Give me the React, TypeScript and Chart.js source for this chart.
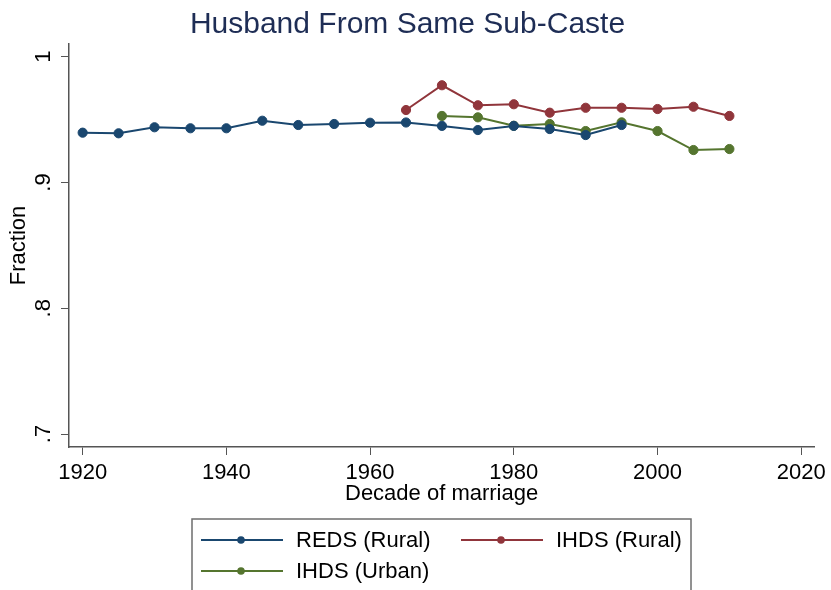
import React, { useEffect, useRef } from "react";
import { Chart, registerables } from "chart.js";

Chart.register(...registerables);

const titleText = "Husband From Same Sub-Caste";
const xAxisTitle = "Decade of marriage";
const yAxisTitle = "Fraction";

const xTickValues = [1920, 1940, 1960, 1980, 2000, 2020];
const yTickValues = [0.7, 0.8, 0.9, 1.0];
const yTickLabels = [".7", ".8", ".9", "1"];

const redsYears = [1920, 1925, 1930, 1935, 1940, 1945, 1950, 1955, 1960, 1965, 1970, 1975, 1980, 1985, 1990, 1995];
const redsRural = [0.9396, 0.9391, 0.9439, 0.9431, 0.9431, 0.9491, 0.9457, 0.9465, 0.9475, 0.9477, 0.945, 0.9417, 0.945, 0.9425, 0.9377, 0.9457];

const ihdsRuralYears = [1965, 1970, 1975, 1980, 1985, 1990, 1995, 2000, 2005, 2010];
const ihdsRural = [0.9576, 0.9773, 0.9614, 0.9622, 0.9555, 0.9594, 0.9594, 0.9584, 0.9602, 0.9529];

const ihdsUrbanYears = [1970, 1975, 1980, 1985, 1990, 1995, 2000, 2005, 2010];
const ihdsUrban = [0.9529, 0.9518, 0.9451, 0.9465, 0.9409, 0.9478, 0.9409, 0.9258, 0.9266];

const seriesLabels = ["REDS (Rural)", "IHDS (Rural)", "IHDS (Urban)"];
const seriesColors = ["#1a476f", "#90353b", "#55752f"];

const FONT = "'Liberation Sans', Arial, Helvetica, sans-serif";

const toPoints = (xs: number[], ys: number[]) => xs.map((x, i) => ({ x, y: ys[i] }));

const legendPlugin = {
  id: "stataLegend",
  afterDraw(chart: any) {
    const ctx = chart.ctx;
    const ds = chart.data.datasets;
    const boxL = 192, boxT = 519, boxR = 691, boxB = 600;
    ctx.save();
    ctx.strokeStyle = "#6e6e6e";
    ctx.lineWidth = 1.5;
    ctx.strokeRect(boxL, boxT, boxR - boxL, boxB - boxT);
    const slots = [
      { lx: 201, ty: 540 },
      { lx: 461, ty: 540 },
      { lx: 201, ty: 571 },
    ];
    ds.forEach((d: any, i: number) => {
      const s = slots[i];
      ctx.strokeStyle = d.borderColor;
      ctx.lineWidth = 2;
      ctx.beginPath();
      ctx.moveTo(s.lx, s.ty);
      ctx.lineTo(s.lx + 82, s.ty);
      ctx.stroke();
      ctx.fillStyle = d.borderColor;
      ctx.beginPath();
      ctx.arc(s.lx + 40, s.ty, 3.8, 0, Math.PI * 2);
      ctx.fill();
      ctx.fillStyle = "#000";
      ctx.font = `22px ${FONT}`;
      ctx.textBaseline = "middle";
      ctx.textAlign = "left";
      ctx.fillText(d.label, s.lx + 95, s.ty + 1);
    });
    ctx.restore();
  },
};

export default function App() {
  const ref = useRef<HTMLCanvasElement | null>(null);

  useEffect(() => {
    document.body.style.margin = "0";
    const canvas = ref.current;
    if (!canvas) return;
    const datasets = [
      toPoints(redsYears, redsRural),
      toPoints(ihdsRuralYears, ihdsRural),
      toPoints(ihdsUrbanYears, ihdsUrban),
    ].map((data, i) => ({
      label: seriesLabels[i],
      data,
      borderColor: seriesColors[i],
      backgroundColor: seriesColors[i],
      pointBackgroundColor: seriesColors[i],
      pointBorderColor: seriesColors[i],
      pointRadius: 4.6,
      pointBorderWidth: 1,
      borderWidth: 2,
      tension: 0,
      fill: false,
    }));

    const chart = new Chart(canvas, {
      type: "line",
      data: { datasets },
      plugins: [legendPlugin],
      options: {
        responsive: false,
        animation: false,
        devicePixelRatio: 1,
        layout: { padding: { top: 0, right: 16, bottom: 83, left: 0 } },
        plugins: {
          legend: { display: false },
          tooltip: { enabled: false },
          title: {
            display: true,
            text: titleText,
            color: "#1e2d55",
            font: { family: FONT, size: 30, weight: "normal" },
            padding: { top: 7, bottom: 1 },
          },
        },
        scales: {
          x: {
            type: "linear",
            min: 1918.1,
            max: 2021.8,
            afterBuildTicks: (s: any) => {
              s.ticks = xTickValues.map((v) => ({ value: v }));
            },
            afterFit: (s: any) => {
              s.height = 60;
            },
            ticks: {
              color: "#000",
              font: { family: FONT, size: 22 },
              padding: 5,
              maxRotation: 0,
              minRotation: 0,
              callback: (v: any) => String(v),
            },
            grid: { drawOnChartArea: false, drawTicks: true, tickLength: 8, color: "#555", lineWidth: 1 },
            border: { display: true, color: "#555", width: 1.5 },
            title: {
              display: true,
              text: xAxisTitle,
              color: "#000",
              font: { family: FONT, size: 22 },
              padding: { top: 0, bottom: 0 },
            },
          },
          y: {
            type: "linear",
            min: 0.6897,
            max: 1.0101,
            afterBuildTicks: (s: any) => {
              s.ticks = yTickValues.map((v) => ({ value: v }));
            },
            afterFit: (s: any) => {
              s.width = 69;
            },
            ticks: {
              color: "#000",
              font: { family: FONT, size: 22 },
              padding: 8,
              minRotation: 90,
              maxRotation: 90,
              crossAlign: "center",
              callback: (v: any) => {
                const idx = yTickValues.findIndex((t) => Math.abs(t - v) < 1e-6);
                return idx >= 0 ? yTickLabels[idx] : "";
              },
            },
            grid: { drawOnChartArea: false, drawTicks: true, tickLength: 8, color: "#555", lineWidth: 1 },
            border: { display: true, color: "#555", width: 1.5 },
            title: {
              display: true,
              text: yAxisTitle,
              color: "#000",
              font: { family: FONT, size: 22 },
              padding: { top: 6, bottom: 0 },
            },
          },
        },
      },
    } as any);
    return () => chart.destroy();
  }, []);

  return <canvas ref={ref} width={831} height={590} style={{ display: "block" }} />;
}
